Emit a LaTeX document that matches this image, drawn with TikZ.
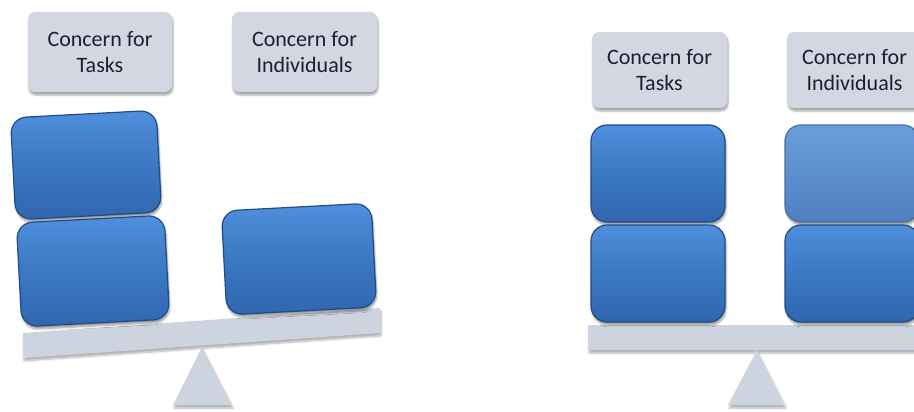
\documentclass[tikz,border=0pt]{standalone}
\usepackage{fontspec}
\setmainfont{Carlito}
\usetikzlibrary{shadows.blur}
\definecolor{lbl}{HTML}{D2D7E2}
\definecolor{beamc}{HTML}{CDD3DF}
\definecolor{blueT}{HTML}{4F8FDB}
\definecolor{blueM}{HTML}{3C78C4}
\definecolor{blueB}{HTML}{3066AE}
\definecolor{blueE}{HTML}{1F4C86}
\definecolor{lbT}{HTML}{6A9EDB}
\definecolor{lbM}{HTML}{5A8CCB}
\definecolor{lbB}{HTML}{5080C0}
\definecolor{txt}{HTML}{1E1E30}
\tikzset{
  labelbox/.style={fill=lbl, rounded corners=7pt, align=center, text=txt,
    font=\fontsize{22}{26}\selectfont, inner sep=0pt,
    blur shadow={shadow xshift=1pt, shadow yshift=-3pt, shadow blur steps=6, shadow opacity=35}},
  block/.style={rounded corners=16pt, draw=blueE, line width=1.2pt,
    top color=blueT, bottom color=blueB, middle color=blueM, inner sep=0pt,
    blur shadow={shadow xshift=1pt, shadow yshift=-3pt, shadow blur steps=6, shadow opacity=40}},
  lightblock/.style={block, top color=lbT, middle color=lbM, bottom color=lbB, draw=blueE!80},
  support/.style={fill=beamc,
    blur shadow={shadow xshift=1pt, shadow yshift=-3pt, shadow blur steps=6, shadow opacity=30}}
}
\begin{document}
\begin{tikzpicture}[x=1pt,y=-1pt]
\useasboundingbox (0,0) rectangle (914,412);
\clip (0,0) rectangle (914,412);
% ---- left balance ----
\fill[support] (23,333) -- (380,308) -- (380,333) -- (23,358) -- cycle;
\fill[support] (202,347) -- (232,405) -- (173,405) -- cycle;
\node[labelbox, minimum width=144pt, minimum height=80pt] (lt) at (100,52) {Concern for\\Tasks};
\node[labelbox, minimum width=145pt, minimum height=80pt] (li) at (304.5,52) {Concern for\\Individuals};
\node[block, minimum width=146pt, minimum height=102pt, rotate=3] (b1) at (86,165) {};
\node[block, minimum width=148pt, minimum height=104pt, rotate=3] (b2) at (93,271) {};
\node[block, minimum width=150pt, minimum height=104pt, rotate=3] (b3) at (299,259) {};
% ---- right balance ----
\fill[support] (588,325) rectangle (930,350);
\fill[support] (757,350) -- (785,405) -- (728,405) -- cycle;
\node[labelbox, minimum width=135pt, minimum height=76pt] (rt) at (659.5,70) {Concern for\\Tasks};
\node[labelbox, minimum width=135pt, minimum height=76pt] (ri) at (854.5,70) {Concern for\\Individuals};
\node[block, minimum width=134pt, minimum height=97pt] (c1) at (658,173.5) {};
\node[block, minimum width=134pt, minimum height=97pt] (c2) at (658,273.5) {};
\node[lightblock, minimum width=134pt, minimum height=97pt] (c3) at (852,173.5) {};
\node[block, minimum width=134pt, minimum height=97pt] (c4) at (852,273.5) {};
\end{tikzpicture}
\end{document}
